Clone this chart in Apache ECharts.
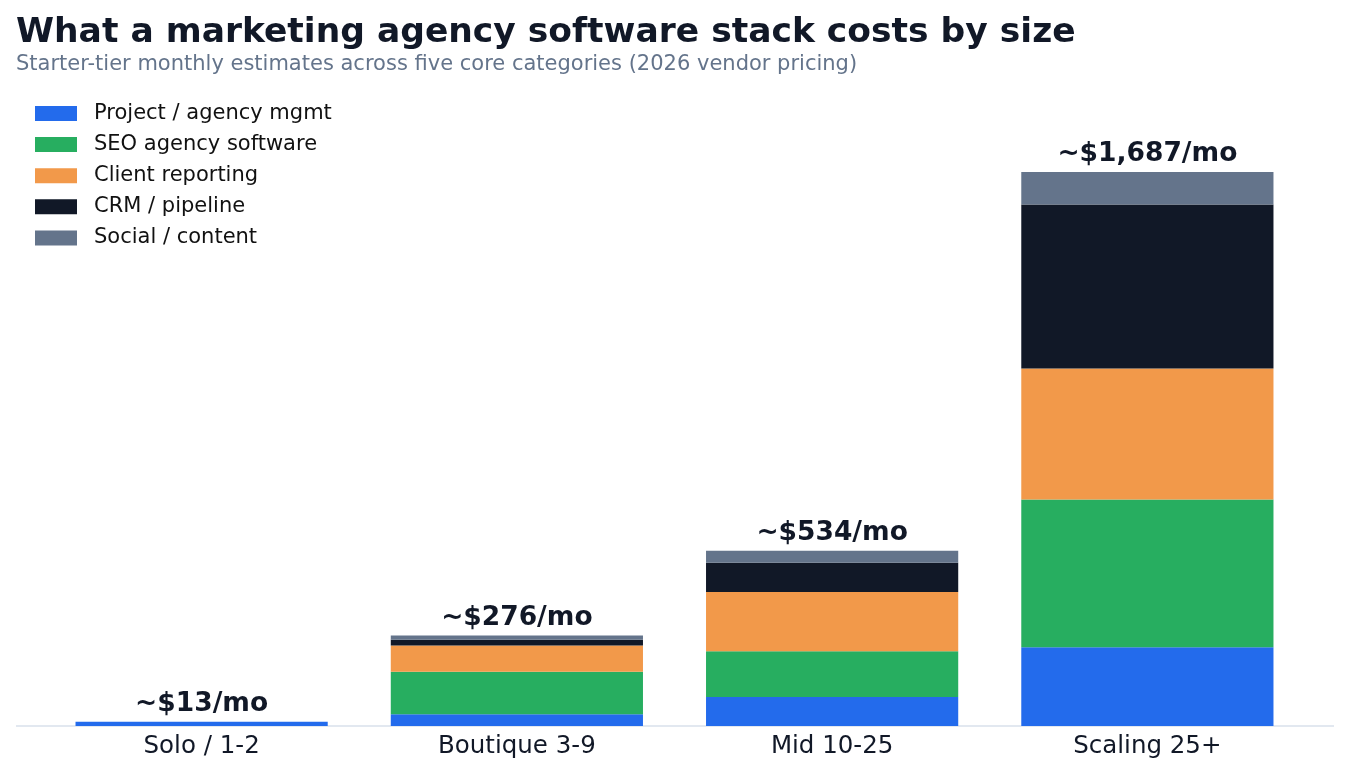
<!DOCTYPE html>
<html><head><meta charset="utf-8">
<script src="https://cdn.jsdelivr.net/npm/echarts@6/dist/echarts.min.js"></script>
<style>html,body{margin:0;padding:0;background:#fff}#c{width:1350px;height:774px}</style>
</head><body><div id="c"></div>
<script>
const categories = ['Solo / 1-2', 'Boutique 3-9', 'Mid 10-25', 'Scaling 25+'];
const projectMgmt = [13, 36, 88, 240];
const seoSoftware = [0, 129, 140, 450];
const clientReporting = [0, 80, 180, 399];
const crmPipeline = [0, 18, 89, 499];
const socialContent = [0, 13, 37, 99];
const totals = [13, 276, 534, 1687];
const totalLabels = ['~$13/mo', '~$276/mo', '~$534/mo', '~$1,687/mo'];

const seriesDefs = [
  ['Project / agency mgmt', projectMgmt, '#236bec'],
  ['SEO agency software', seoSoftware, '#27ae60'],
  ['Client reporting', clientReporting, '#f2994a'],
  ['CRM / pipeline', crmPipeline, '#111827'],
  ['Social / content', socialContent, '#64748b']
];
const FONT = 'DejaVu Sans';
const chart = echarts.init(document.getElementById('c'), null, {renderer: 'canvas'});
const series = seriesDefs.map(([name, data, color]) => ({
  name, type: 'bar', stack: 'total', data, barWidth: '80%',
  itemStyle: {color}, emphasis: {disabled: true}
}));
series.push({
  name: 'totals', type: 'scatter', data: totals, symbolSize: 0, silent: true,
  itemStyle: {opacity: 1, color: '#111827'},
  label: {show: true, position: 'top', distance: 4, formatter: p => totalLabels[p.dataIndex],
    fontFamily: FONT, fontWeight: 'bold', fontSize: 26.5, color: '#111827', opacity: 1}
});
chart.setOption({
  animation: false,
  textStyle: {fontFamily: FONT},
  title: [
    {text: 'What a marketing agency software stack costs by size', left: 16, top: 16, padding: 0,
     textStyle: {fontFamily: FONT, fontWeight: 'bold', fontSize: 34.5, color: '#111827'}},
    {text: 'Starter-tier monthly estimates across five core categories (2026 vendor pricing)', left: 16, top: 54, padding: 0,
     textStyle: {fontFamily: FONT, fontWeight: 'normal', fontSize: 21, color: '#64748b'}}
  ],
  legend: {
    data: seriesDefs.map(s => s[0]), orient: 'vertical', left: 35, top: 103, padding: 0,
    itemWidth: 42, itemHeight: 15, itemGap: 10.1, icon: 'rect',
    textStyle: {fontFamily: FONT, fontSize: 21, lineHeight: 21, color: '#111111', padding: [0, 0, 0, 12]}
  },
  grid: {left: 44, right: 45, top: 135, bottom: 48, containLabel: false},
  xAxis: {
    type: 'category', data: categories, boundaryGap: true,
    axisLine: {show: false}, axisTick: {show: false},
    axisLabel: {fontFamily: FONT, fontSize: 24.5, color: '#111827', margin: 8}
  },
  yAxis: {type: 'value', min: 0, max: 1800, show: false, splitLine: {show: false}},
  graphic: [{type: 'line', shape: {x1: 16, y1: 726, x2: 1334, y2: 726}, style: {stroke: '#e2e8f0', lineWidth: 2}, z: -1}],
  series
});
</script></body></html>
